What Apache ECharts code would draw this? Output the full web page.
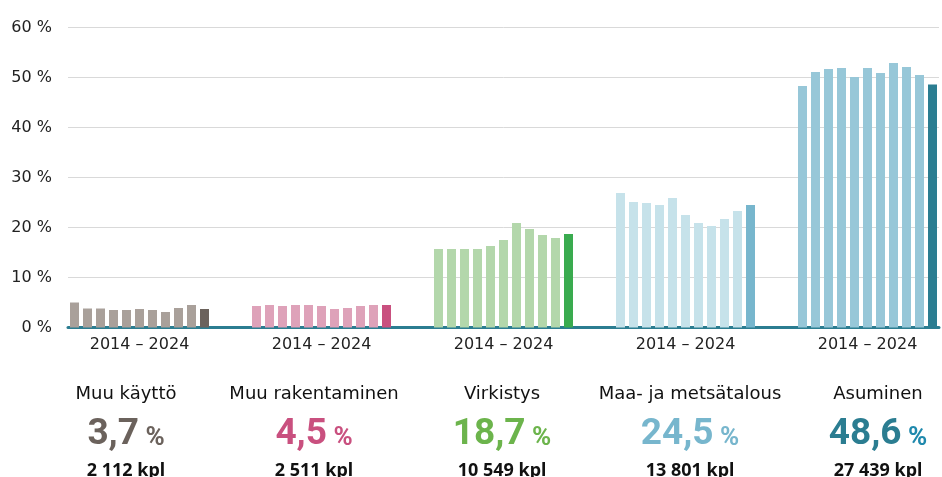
<!DOCTYPE html>
<html>
<head>
<meta charset="utf-8">
<script src="https://cdn.jsdelivr.net/npm/echarts@6/dist/echarts.min.js"></script>
<style>
html,body{margin:0;padding:0;background:#fff;}
#chart{width:942px;height:477px;}
</style>
</head>
<body>
<div id="chart"></div>
<script>
const years = ['2014','2015','2016','2017','2018','2019','2020','2021','2022','2023','2024'];
const groupNames = ['Muu käyttö', 'Muu rakentaminen', 'Virkistys', 'Maa- ja metsätalous', 'Asuminen'];
const muuKaytto      = [5.0, 3.8, 3.8, 3.5, 3.5, 3.7, 3.5, 3.1, 3.9, 4.5, 3.7];
const muuRakentaminen= [4.3, 4.5, 4.3, 4.5, 4.5, 4.3, 3.7, 3.9, 4.3, 4.5, 4.5];
const virkistys      = [15.7, 15.7, 15.7, 15.7, 16.3, 17.5, 20.9, 19.7, 18.5, 17.9, 18.7];
const maaJaMetsa     = [26.9, 25.1, 24.9, 24.5, 25.9, 22.5, 20.9, 20.3, 21.7, 23.3, 24.5];
const asuminen       = [48.3, 51.1, 51.7, 51.9, 50.1, 51.9, 50.9, 52.9, 52.1, 50.5, 48.6];
const shares = ['3,7', '4,5', '18,7', '24,5', '48,6'];
const counts = ['2 112 kpl', '2 511 kpl', '10 549 kpl', '13 801 kpl', '27 439 kpl'];
const yTicks = [0, 10, 20, 30, 40, 50, 60];
const periodLabel = '2014 – 2024';

const lightColors = ['#a9a09a', '#dea2b9', '#b3d7ab', '#c6e2ea', '#97c7d8'];
const darkColors  = ['#6b625c', '#c9507f', '#3aab4f', '#77b6cd', '#2b7d91'];
const shareColors = ['#6b625c', '#c9507f', '#6cb44c', '#77b6cd', '#2b7d91'];
const pctColors   = ['#6b625c', '#c9507f', '#6cb44c', '#77b6cd', '#1f89ad'];
const axisColor = '#2b7d91';

const groups = [muuKaytto, muuRakentaminen, virkistys, maaJaMetsa, asuminen];
const GAP = 3;
const categories = [];
const barData = [];
groups.forEach((vals, g) => {
  vals.forEach((v, i) => {
    categories.push(groupNames[g] + ' ' + years[i]);
    barData.push({
      value: v,
      itemStyle: { color: i === vals.length - 1 ? darkColors[g] : lightColors[g] }
    });
  });
  if (g < groups.length - 1) {
    for (let k = 0; k < GAP; k++) {
      categories.push('gap-' + g + '-' + k);
      barData.push('-');
    }
  }
});
const slotsPerGroup = years.length + GAP;
const labelSlot = Math.floor(years.length / 2);

const rich = {
  n: { fontFamily: 'DejaVu Sans', fontSize: 18, color: '#111', lineHeight: 28 },
  c: { fontFamily: 'Noto Sans', fontWeight: 'bold', fontSize: 18, color: '#111', lineHeight: 36 }
};
shareColors.forEach((col, i) => {
  rich['p' + i] = { fontFamily: 'Roboto', fontWeight: 'bold', fontSize: 37, color: col, lineHeight: 45, verticalAlign: 'bottom' };
  rich['s' + i] = { fontFamily: 'Roboto', fontWeight: 'bold', fontSize: 26, color: pctColors[i], lineHeight: 45, verticalAlign: 'bottom', padding: [0, 0, 2, 0] };
});

const chart = echarts.init(document.getElementById('chart'), null, { renderer: 'canvas' });
chart.setOption({
  animation: false,
  backgroundColor: '#fff',
  grid: [
    { left: 68, top: 27.5, width: 871, height: 300 },
    { left: 126, top: 380, width: 752, height: 1 }
  ],
  xAxis: [
    {
      type: 'category', gridIndex: 0, data: categories,
      axisLine: { show: true, lineStyle: { color: axisColor, width: 3 } },
      axisTick: { show: false },
      axisLabel: {
        interval: (idx) => idx % slotsPerGroup === labelSlot,
        formatter: () => periodLabel,
        fontFamily: 'DejaVu Sans', fontSize: 16, color: '#222', margin: 9
      },
      splitLine: { show: false }
    },
    {
      type: 'category', gridIndex: 1, data: groupNames, boundaryGap: false,
      axisLine: { show: false }, axisTick: { show: false },
      axisLabel: {
        interval: 0, margin: 0,
        formatter: (value, index) => '{n|' + value + '}\n{p' + index + '|' + shares[index] + '}{s' + index + '| %}\n{c|' + counts[index] + '}',
        rich: rich
      }
    }
  ],
  yAxis: [
    {
      type: 'value', gridIndex: 0, min: yTicks[0], max: yTicks[yTicks.length - 1], interval: 10,
      axisLine: { show: false }, axisTick: { show: false },
      axisLabel: { formatter: '{value} %', fontFamily: 'DejaVu Sans', fontSize: 16, color: '#222', margin: 16 },
      splitLine: { lineStyle: { color: '#d9d9d9', width: 1 } }
    },
    { type: 'value', gridIndex: 1, show: false }
  ],
  series: [
    {
      type: 'bar', xAxisIndex: 0, yAxisIndex: 0, data: barData,
      barWidth: 9, silent: true
    },
    {
      type: 'line', xAxisIndex: 1, yAxisIndex: 1, data: groupNames.map(() => '-'), silent: true
    }
  ]
});
</script>
</body>
</html>
